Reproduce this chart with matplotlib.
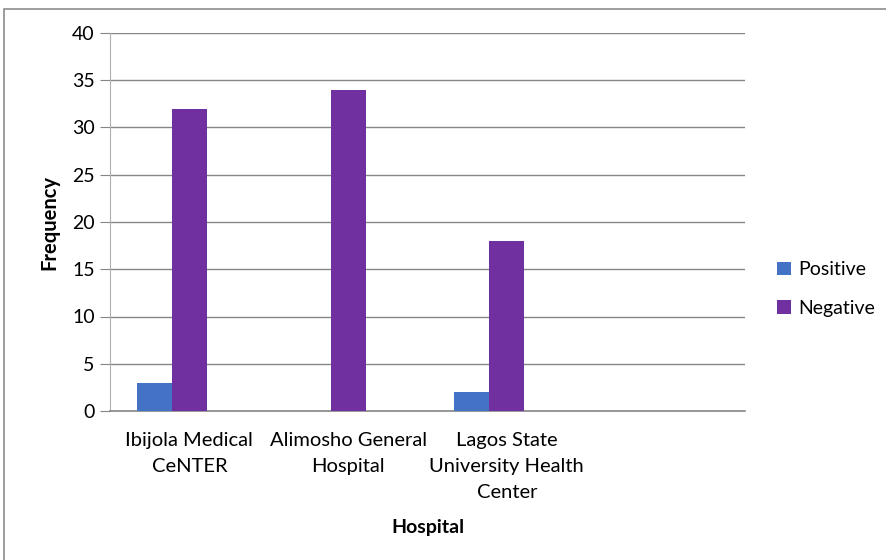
import matplotlib
matplotlib.use("Agg")
import matplotlib.pyplot as plt
import numpy as np
from matplotlib.patches import Rectangle

plt.rcParams['font.family'] = ['Lato', 'DejaVu Sans']

categories = ["Ibijola Medical\nCeNTER", "Alimosho General\nHospital",
              "Lagos State\nUniversity Health\nCenter", ""]
positive = [3, 0, 2, 0]
negative = [32, 34, 18, 0]
yticks = [0, 5, 10, 15, 20, 25, 30, 35, 40]

fig = plt.figure(figsize=(8.87, 5.6), dpi=100)
W, H = 887, 560
ax = fig.add_axes([110 / W, 1 - 411 / H, (745 - 110) / W, (411 - 33) / H])

x = np.arange(len(categories))
w = 0.222
ax.bar(x - w, positive, width=w, align='center', color='#4472C4', label='Positive', zorder=3)
ax.bar(x, negative, width=w, align='center', color='#7030A0', label='Negative', zorder=3)

ax.set_xlim(-0.5, len(categories) - 0.5)
ax.set_ylim(0, 40)
ax.set_yticks(yticks)
ax.set_yticklabels([str(v) for v in yticks], fontsize=14)
ax.set_xticks(x)
ax.set_xticklabels(categories, fontsize=14.5, linespacing=1.65)
ax.tick_params(axis='x', length=0, pad=15)
ax.tick_params(axis='y', length=7, color='#868686', pad=4)

ax.yaxis.grid(True, color='#868686', linewidth=1.0, zorder=0)
for s in ['top', 'right']:
    ax.spines[s].set_visible(False)
ax.spines['left'].set_color('#B0B0B0')
ax.spines['bottom'].set_color('#868686')
ax.spines['bottom'].set_linewidth(1.2)

ax.set_ylabel('Frequency', fontsize=14.5, fontweight='bold', labelpad=9)
ax.set_xlabel('Hospital', fontsize=14, fontweight='bold', labelpad=13)

leg = fig.legend(handles=[ax.containers[0], ax.containers[1]],
                 labels=['Positive', 'Negative'],
                 loc='center left', bbox_to_anchor=(760 / W, 1 - 289 / H),
                 frameon=False, fontsize=14, handlelength=0.7, handleheight=0.7,
                 handletextpad=0.35, labelspacing=1.1)

fig.patches.append(Rectangle((4 / W, -0.1), 1.2, 1 - 9 / H + 0.1, transform=fig.transFigure,
                             fill=False, edgecolor='#8C8C8C', linewidth=1.2))

fig.savefig('out.png', dpi=100)
